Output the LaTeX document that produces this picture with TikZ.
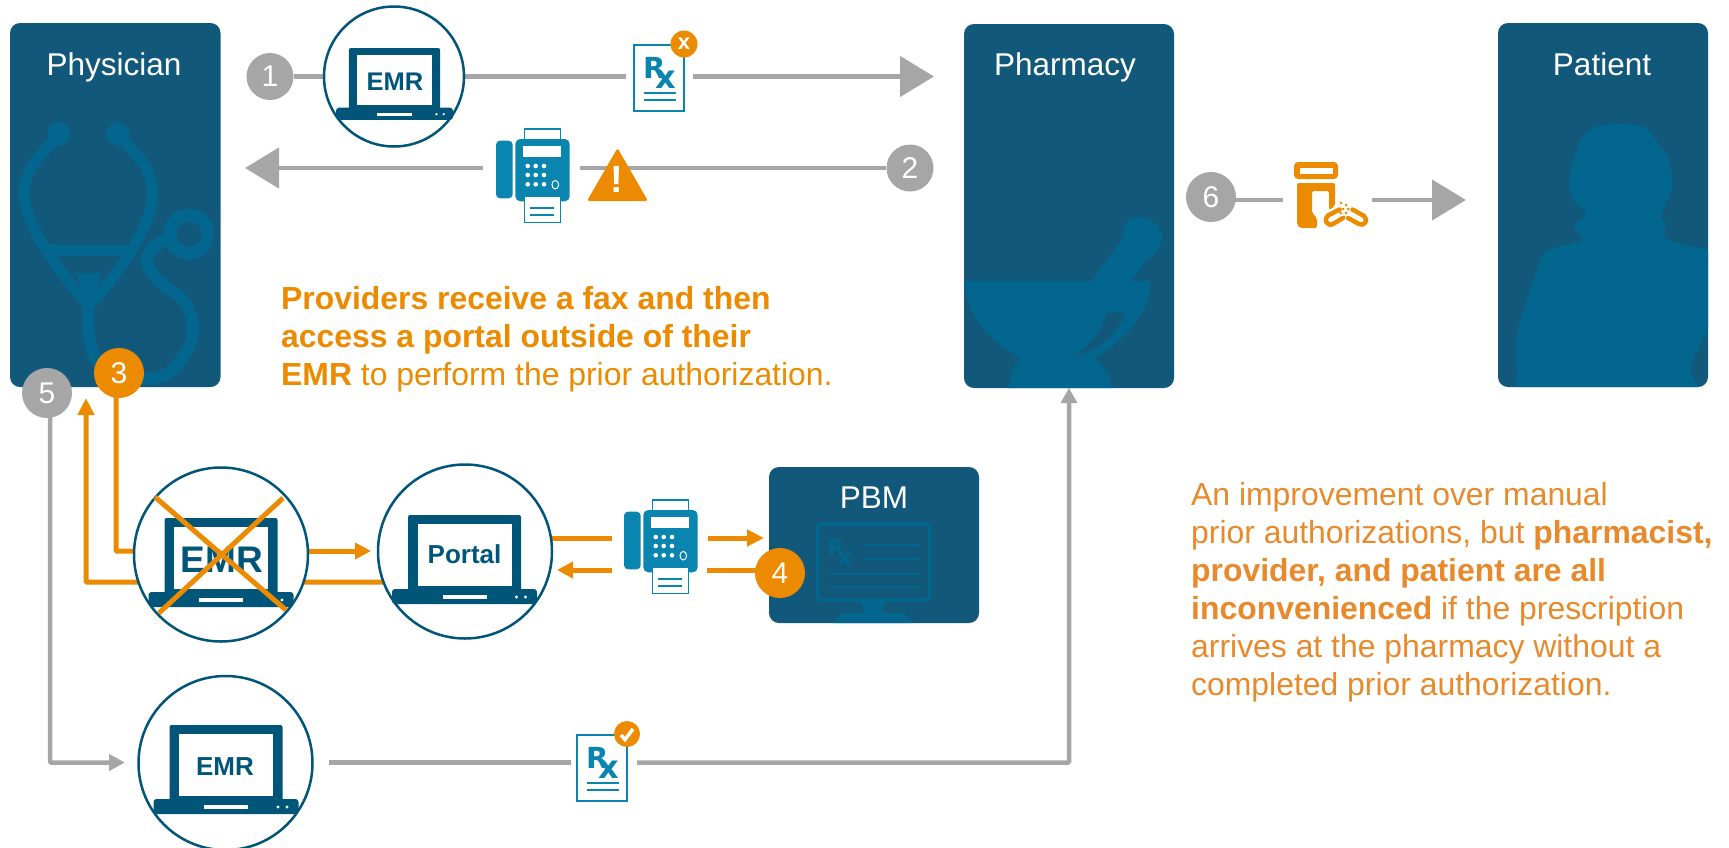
\documentclass[tikz,border=0pt]{standalone}
\usepackage{fontspec}
\setmainfont{Liberation Sans}
\newfontfamily\rxfont{DejaVu Sans}
\usetikzlibrary{arrows.meta,backgrounds}
\definecolor{boxblue}{HTML}{12587A}
\definecolor{shapeblue}{HTML}{03668F}
\definecolor{lap}{HTML}{005578}
\definecolor{faxblue}{HTML}{0A85B0}
\definecolor{orng}{HTML}{EC8A00}
\definecolor{orng2}{HTML}{E8892B}
\definecolor{gry}{HTML}{A6A6A6}
\tikzset{
  actor/.style={fill=boxblue,draw=none,rounded corners=10pt},
  lbl/.style={text=white,font=\fontsize{31.5}{37}\selectfont,inner sep=0pt,anchor=base},
  num/.style={circle,fill=#1,text=white,inner sep=0pt,font=\fontsize{30}{36}\selectfont},
  ring/.style={circle,draw=lap,line width=2.5pt,fill=white,inner sep=0pt},
  ghost/.style={draw=none,fill=none,inner sep=0pt},
  gline/.style={draw=gry,line width=4.5pt},
  oline/.style={draw=orng,line width=5pt},
  tube/.style={draw=shapeblue,line width=11pt,line cap=round,line join=round},
  laptop/.pic={
    \fill[lap,rounded corners=2pt] (-56.5,0) rectangle (56.5,76);
    \fill[white] (-47,9) rectangle (47,71);
    \fill[lap,rounded corners=3pt] (-72.5,74) -- (-72.5,89) -- (72.5,89) -- (72.5,74) -- cycle;
    \fill[white] (-22,80) rectangle (22,84);
    \fill[white] (52,82) circle (1.6) (61,82) circle (1.6);
  },
  faxicon/.pic={
    \draw[faxblue,fill=white,line width=1.5pt] (28.3,0.8) rectangle (64.3,14);
    \fill[faxblue,rounded corners=4pt] (0,12.7) rectangle (16.7,70.3);
    \fill[faxblue,rounded corners=5pt] (19.3,11) rectangle (73.7,73.3);
    \fill[white] (27,18.3) rectangle (65.3,29.3);
    \foreach \px in {31.7,39.7,48}{\foreach \py in {38,47,56.3}{\fill[white] (\px,\py) circle (2.3);}}
    \draw[white,line width=1pt] (59.3,56.7) ellipse (3.3 and 4.3);
    \draw[faxblue,fill=white,line width=1.5pt] (28.3,68) rectangle (64.3,94.5);
    \draw[faxblue,line width=1.6pt] (34,80) -- (58.3,80) (34,87) -- (58.3,87);
  },
  rxicon/.pic={
    \draw[faxblue,fill=white,line width=2pt] (0,0) rectangle (50,66);
    \node[anchor=base west,inner sep=0pt,text=faxblue,font=\fontsize{29}{29}\selectfont\rxfont\bfseries] (-rx) at (9,33) {R\kern-10pt\lower10pt\hbox{\fontsize{32}{32}\selectfont x}};
    \draw[faxblue,line width=2pt] (10,48) -- (42,48) (10,55) -- (42,55);
  },
}
\begin{document}
\begin{tikzpicture}[x=1pt,y=-1pt]
\useasboundingbox (0,0) rectangle (1729,847);
\clip (0,0) rectangle (1729,847);

% ---- actor boxes
\node[actor,minimum width=210.5pt,minimum height=364pt,inner sep=0pt] (phys) at (115.25,205) {};
\node[actor,minimum width=210pt,minimum height=364pt,inner sep=0pt] (pharm) at (1069,206) {};
\node[actor,minimum width=210pt,minimum height=364pt,inner sep=0pt] (pat) at (1603,205) {};
\node[actor,minimum width=210pt,minimum height=156pt,inner sep=0pt] (pbm) at (874,545) {};

% stethoscope
\begin{scope}
\clip[rounded corners=10pt] (10,23) rectangle (220.5,387);
\draw[tube] plot[smooth,tension=.6] coordinates {(59,134) (45,150) (31,168) (24.5,190) (30,220) (54,262) (86,303)};
\draw[tube] plot[smooth,tension=.6] coordinates {(118,134) (132,150) (146,168) (152,190) (147,220) (124,262) (92,303)};
\fill[shapeblue] (59,134) circle (11.5) (118,134) circle (11.5);
\fill[shapeblue] (50,245) rectangle (128,256);
\fill[shapeblue] (76,273) -- (102,273) -- (93,300) -- (85,300) -- cycle;
\draw[tube,line width=12pt] plot[smooth,tension=.6] coordinates {(89,297) (89,335) (100,365) (130,378) (165,375) (187,350) (193,325) (183,300) (160,282) (147,263) (153,248) (168,238)};
\draw[shapeblue,line width=13pt] (189,234) circle (19);
\end{scope}

% mortar and pestle
\begin{scope}
\clip[rounded corners=10pt] (964,24) rectangle (1174,388);
\fill[shapeblue] (1090,283) -- (1123,238) -- (1125,225) .. controls (1130,213) and (1150,215) .. (1160,228) .. controls (1166,240) and (1158,255) .. (1146,260) -- (1130,283) -- cycle;
\fill[shapeblue] (964,281) -- (1150,281) .. controls (1150,315) and (1125,340) .. (1094,358)
  .. controls (1104,365) and (1110,378) .. (1113,388) -- (1008,388)
  .. controls (1011,375) and (1013,365) .. (1021,358) .. controls (990,340) and (968,320) .. (964,281) -- cycle;
\fill[boxblue] (1107,313) -- (1125,312) .. controls (1118,335) and (1100,350) .. (1074,356) .. controls (1090,345) and (1102,332) .. (1107,313) -- cycle;
\end{scope}

% patient silhouette
\begin{scope}
\clip[rounded corners=10pt] (1498,23) rectangle (1708,387);
\fill[shapeblue] plot[smooth cycle,tension=.45] coordinates {(1618,124) (1645,127) (1658,143) (1669,160) (1672,187) (1661,217) (1667,224) (1664,237) (1684,245) (1712,255) (1712,317) (1690,367) (1692,395) (1530,395) (1517,367) (1517,333) (1530,290) (1546,252) (1582,240) (1574,227) (1586,213) (1573,200) (1569,177) (1581,140) (1595,127)};
\end{scope}

% PBM monitor
\draw[shapeblue,line width=3.5pt,rounded corners=4pt] (817.5,524) rectangle (929.5,600);
\fill[shapeblue] (861,601) -- (885,601) -- (882,613) -- (864,613) -- cycle;
\fill[shapeblue] (833,623) -- (842,613) -- (904,613) -- (913,623) -- cycle;
\node[anchor=base west,inner sep=0pt,text=shapeblue,font=\fontsize{22}{22}\selectfont\rxfont\bfseries] (pbmrx) at (827,555) {R\kern-7pt\lower10pt\hbox{\fontsize{24}{24}\selectfont x}};
\draw[shapeblue,line width=2pt] (863,545) -- (919,545) (863,559) -- (919,559) (828,574) -- (919,574) (828,587) -- (919,587);

% labels of the boxes
\node[lbl] (physl) at (114,75) {Physician};
\node[lbl] (pharml) at (1065,75) {Pharmacy};
\node[lbl] (patl) at (1602,75) {Patient};
\node[lbl] (pbml) at (874,508) {PBM};

% ---- numbered circles
\node[num=gry,minimum size=47pt] (c1) at (270,76.5) {1};
\node[num=gry,minimum size=47pt] (c2) at (910,168) {2};
\node[num=orng,minimum size=50pt] (c3) at (119,373) {3};
\node[num=orng,minimum size=50pt] (c4) at (780,573) {4};
\node[num=gry,minimum size=50pt] (c5) at (47,393) {5};
\node[num=gry,minimum size=50pt] (c6) at (1211,197) {6};

% ---- EMR / portal circles
\node[ring,minimum size=140pt] (emrtop) at (394,76.5) {};
\pic[scale=0.807] (laptopa) at (394.5,48) {laptop};
\node[inner sep=0pt,text=lap,font=\fontsize{25.5}{30}\selectfont\bfseries] (emrtopl) at (395,82) {EMR};

\node[ring,minimum size=174pt] (emrx) at (221,554.5) {};
\pic[scale=1] (laptopb) at (221,518) {laptop};
\node[inner sep=0pt,text=lap,font=\fontsize{37}{40}\selectfont\bfseries] (emrxl) at (222,560) {EMR};
\draw[orng,line width=5pt] (155,497) -- (286,610) (283,498) -- (159,613);

\node[ring,minimum size=174pt] (portal) at (465,551.5) {};
\pic[scale=1] (laptopc) at (464.5,515) {laptop};
\node[inner sep=0pt,text=lap,font=\fontsize{26}{30}\selectfont\bfseries] (portall) at (464.5,554) {Portal};

\node[ring,minimum size=174pt] (emrbot) at (225.5,763) {};
\pic[scale=1] (laptopd) at (226,725) {laptop};
\node[inner sep=0pt,text=lap,font=\fontsize{26}{30}\selectfont\bfseries] (emrbotl) at (225,767) {EMR};

% ---- icons
\pic (rxa) at (634,45) {rxicon};
\node[circle,fill=orng,minimum size=27pt,inner sep=0pt,text=white,font=\fontsize{22}{22}\selectfont\bfseries] (rxabadge) at (684,44) {x};
\pic (rxb) at (577,735) {rxicon};
\node[circle,fill=orng,minimum size=26pt,inner sep=0pt] (rxbbadge) at (627,734) {};
\draw[white,line width=3.5pt] (621,735) -- (625,739.5) -- (633,729);

\pic (faxa) at (496,128) {faxicon};
\pic (faxb) at (624,499) {faxicon};

\fill[orng,rounded corners=2.5pt] (617.5,148) -- (648,201) -- (587,201) -- cycle;
\node[inner sep=0pt,text=white,font=\fontsize{38}{38}\selectfont\bfseries] (warnmark) at (617,179) {!};

% pill bottle
\fill[orng,rounded corners=4pt] (1294,162) rectangle (1338,179);
\fill[white] (1300,168) rectangle (1333,174);
\fill[orng,rounded corners=2pt] (1297,183) -- (1335,183) -- (1335,206) -- (1329,210) -- (1329,191) -- (1312,191) -- (1312,213) -- (1317,218) -- (1317,228) -- (1300,228) -- (1297,225) -- cycle;
\draw[orng,line width=4.5pt,line cap=round,line join=round] (1339.5,209.5) -- (1328,215.5) .. controls (1323,219) and (1327,227) .. (1333,224) -- (1343,218);
\draw[orng,line width=4.5pt,line cap=round,line join=round] (1352.5,209.5) -- (1364,216) .. controls (1369,220) and (1364,227) .. (1359,224) -- (1348,218);
\foreach \dx/\dy in {1341/203,1346/205,1348/209,1343/209,1340.5/213,1346/213,1344/217}{\fill[orng] (\dx,\dy) circle (1.5);}

% ---- free ends and icon gaps
\node[ghost,minimum width=67pt,minimum height=40pt] (rxgap) at (659.5,76.5) {};
\node[ghost,minimum width=97pt,minimum height=40pt] (faxgap) at (531.5,168) {};
\node[ghost,minimum width=89pt,minimum height=40pt] (botgap) at (1327.5,200) {};
\node[ghost,minimum width=66pt,minimum height=40pt] (rxbgap) at (604,762.5) {};
\coordinate (tipa) at (934,76.5);
\coordinate (tipb) at (245,168);
\coordinate (tipc) at (1466,200);
\coordinate (bstart) at (329,762.5);
\coordinate (ptip) at (1069,388);
\coordinate (fivetop) at (50,393);
\coordinate (fivetip) at (125,762.5);
\coordinate (threetop) at (116,373);
\coordinate (threeend) at (134,551);
\coordinate (uptip) at (86,398);
\coordinate (portalw) at (383,582);
\coordinate (portr) at (371,551);
\coordinate (emre) at (308,551);
\coordinate (faxgapa) at (612,538);
\coordinate (faxgapb) at (708,538);
\coordinate (faxgapc) at (612,570);
\coordinate (faxgapd) at (707,570);
\coordinate (portala) at (552,538);
\coordinate (portalb) at (557,570);
\coordinate (pbmtip) at (764,538);

% ---- connectors (behind everything)
\begin{pgfonlayer}{background}
\draw[gline] (c1) -- (emrtop);
\draw[gline] (emrtop) -- (rxgap);
\draw[gline,-{Triangle[length=34pt,width=40pt]},gry] (rxgap) -- (tipa);
\draw[gline] (c2) -- (faxgap);
\draw[gline,-{Triangle[length=34pt,width=40pt]},gry] (faxgap) -- (tipb);
\draw[gline] (c6 |- botgap) -- (botgap);
\draw[gline,-{Triangle[length=34pt,width=40pt]},gry] (botgap) -- (tipc);
\draw[gline,rounded corners=1pt,-{Triangle[length=16pt,width=16pt]},gry] (fivetop) |- (fivetip);
\draw[gline] (bstart) -- (rxbgap);
\draw[gline,rounded corners=1pt,-{Triangle[length=15pt,width=16pt]},gry] (rxbgap) -| (ptip);
\draw[oline,rounded corners=1pt] (threetop) |- (threeend);
\draw[oline,rounded corners=1pt,-{Triangle[length=17pt,width=16pt]},orng] (portalw) -| (uptip);
\draw[oline,-{Triangle[length=16pt,width=16pt]},orng] (emre) -- (portr);
\draw[oline] (portala) -- (faxgapa);
\draw[oline,-{Triangle[length=16pt,width=16pt]},orng] (faxgapc) -- (portalb);
\draw[oline,-{Triangle[length=17pt,width=16pt]},orng] (faxgapb) -- (pbmtip);
\draw[oline] (faxgapd) -- (c4 |- faxgapd);
\end{pgfonlayer}

% ---- paragraphs
\node[anchor=base west,align=left,inner sep=0pt,text=orng,font=\fontsize{31.9}{38}\selectfont] (para) at (281,385)
 {\textbf{Providers receive a fax and then}\\\textbf{access a portal outside of their}\\\textbf{EMR} to perform the prior authorization.};
\node[anchor=base west,align=left,inner sep=0pt,text=orng2,font=\fontsize{31.9}{38}\selectfont] (parb) at (1191,695)
 {An improvement over manual\\prior authorizations, but \textbf{pharmacist,}\\\textbf{provider, and patient are all}\\\textbf{inconvenienced} if the prescription\\arrives at the pharmacy without a\\completed prior authorization.};
\end{tikzpicture}
\end{document}
